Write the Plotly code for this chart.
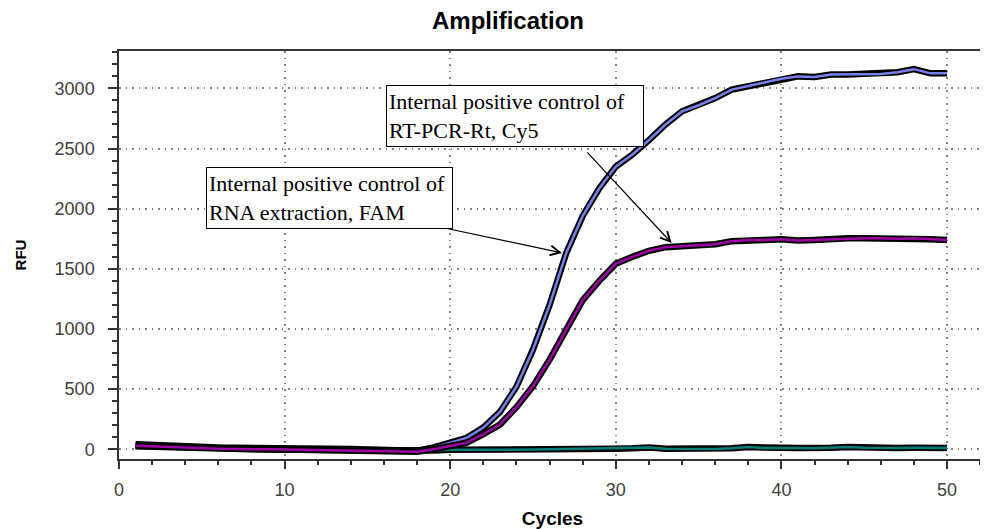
import plotly.graph_objects as go

cycles = list(range(1, 51))

# Internal positive control of RT-PCR-Rt, Cy5 (blue)
cy5 = [42, 35, 25, 22, 18, 14, 12, 12, 9, 6, 4, 1, 0, 2, -2, -5, -8, -12, 15, 55,
       95, 180, 310, 520, 830, 1200, 1630, 1940, 2170, 2350,
       2450, 2570, 2700, 2810, 2860, 2920, 2990, 3020, 3050, 3080,
       3100, 3095, 3115, 3115, 3118, 3120, 3135, 3160, 3125, 3125]

# Internal positive control of RNA extraction, FAM (purple)
fam = [30, 25, 15, 12, 8, 5, 2, 3, 0, -3, -5, -8, -8, -6, -10, -13, -15, -20, 0, 30,
       55, 125, 205, 350, 525, 745, 990, 1240, 1400, 1543,
       1600, 1650, 1680, 1690, 1700, 1705, 1730, 1740, 1740, 1745,
       1735, 1740, 1750, 1755, 1755, 1755, 1750, 1755, 1745, 1740]

# Negative / background curve (teal)
neg = [25, 20, 12, 10, 5, 3, 0, 0, -3, -5, -6, -8, -8, -8, -10, -12, -14, -16, -10, -5,
       -5, -6, -6, -5, -3, 0, 2, 5, 4, 5,
       8, 15, 5, 3, 4, 2, 8, 18, 10, 12,
       10, 8, 12, 18, 12, 8, 10, 12, 10, 10]

title_text = "Amplification"
x_title = "Cycles"
y_title = "RFU"
label_cy5 = "Internal positive control of<br>RT-PCR-Rt, Cy5"
label_fam = "Internal positive control of<br>RNA extraction, FAM"

X_RANGE = [0, 52.35]
Y_RANGE = [-81, 3311]

# page body has an 8px margin, so the figure is 980x521 placed at (8, 8)
W, H = 980, 521

fig = go.Figure()
series = [(neg, "#00807A"), (cy5, "#7880EC"), (fam, "#A000A8")]
for vals, col in series:
    fig.add_trace(go.Scatter(x=cycles, y=vals, mode="lines",
                             line=dict(color="black", width=6.5), hoverinfo="skip",
                             showlegend=False))
    fig.add_trace(go.Scatter(x=cycles, y=vals, mode="lines",
                             line=dict(color=col, width=2.5), showlegend=False))

axis_col = "#333333"
tickfont = dict(family="Liberation Sans, Arial, sans-serif", size=18, color="#404040")
grid = dict(showgrid=True, gridcolor="#808080", gridwidth=1.5, griddash="1.5px,5px")

fig.update_layout(
    width=W, height=H,
    margin=dict(l=111, r=0, t=43, b=70),
    paper_bgcolor="white", plot_bgcolor="white",
    showlegend=False,
    title=dict(text=title_text, x=500 / W, xanchor="center", y=1 - 13 / H,
               yanchor="middle",
               font=dict(family="Liberation Sans, Arial, sans-serif", size=24,
                         color="black", weight="bold")),
    xaxis=dict(range=X_RANGE, tick0=0, dtick=10, ticks="outside", ticklen=8,
               tickwidth=1.5, tickcolor=axis_col, showline=True, linecolor=axis_col,
               linewidth=1.5, mirror=True, zeroline=False, tickfont=tickfont,
               ticklabelstandoff=6,
               minor=dict(dtick=2, tick0=0, ticks="outside", ticklen=4, tickwidth=1.5,
                          tickcolor=axis_col, showgrid=False),
               title=dict(text=x_title, standoff=14,
                          font=dict(family="Liberation Sans, Arial, sans-serif",
                                    size=19, color="black", weight="bold")),
               **grid),
    xaxis2=dict(range=X_RANGE, overlaying="x", anchor="y", side="bottom",
                tick0=0, dtick=10, ticks="inside", ticklen=9, tickwidth=1.5,
                tickcolor=axis_col, showticklabels=False, showgrid=False,
                zeroline=False, showline=False, mirror="allticks",
                minor=dict(dtick=2, tick0=0, ticks="inside", ticklen=5, tickwidth=1.5,
                           tickcolor=axis_col, showgrid=False)),
    yaxis=dict(range=Y_RANGE, tick0=0, dtick=500, ticks="outside", ticklen=9,
               tickwidth=1.5, tickcolor=axis_col, showline=True, linecolor=axis_col,
               linewidth=1.5, mirror=True, zeroline=False, tickfont=tickfont,
               ticklabelstandoff=10,
               minor=dict(dtick=100, tick0=0, ticks="outside", ticklen=5, tickwidth=1.5,
                          tickcolor=axis_col, showgrid=False),
               title=dict(text=y_title, standoff=24,
                          font=dict(family="Liberation Sans, Arial, sans-serif",
                                    size=15, color="black", weight="bold")),
               **grid),
    yaxis2=dict(range=Y_RANGE, overlaying="y", anchor="x", side="left",
                tick0=0, dtick=500, ticks="inside", ticklen=8, tickwidth=1.5,
                tickcolor=axis_col, showticklabels=False, showgrid=False,
                zeroline=False, showline=False, mirror="allticks",
                minor=dict(dtick=100, tick0=0, ticks="inside", ticklen=5, tickwidth=1.5,
                           tickcolor=axis_col, showgrid=False)),
)

box_font = dict(family="Liberation Serif, Times New Roman, serif", size=22, color="black")
# Label boxes
fig.add_annotation(x=23.92, y=2772, xref="x", yref="y", text=label_cy5, showarrow=False,
                   align="left", width=252, height=56, borderpad=2, bordercolor="black",
                   borderwidth=1, bgcolor="white", font=box_font,
                   xanchor="center", yanchor="middle")
fig.add_annotation(x=12.71, y=2085, xref="x", yref="y", text=label_fam, showarrow=False,
                   align="left", width=241, height=56, borderpad=2, bordercolor="black",
                   borderwidth=1, bgcolor="white", font=box_font,
                   xanchor="center", yanchor="middle")
# Arrows
fig.add_annotation(x=33.37, y=1714, ax=28.19, ay=2480, xref="x", yref="y",
                   axref="x", ayref="y", text="", showarrow=True, arrowhead=5,
                   arrowsize=1.6, arrowwidth=1.2, arrowcolor="black", standoff=0)
fig.add_annotation(x=26.75, y=1632, ax=19.64, ay=1840, xref="x", yref="y",
                   axref="x", ayref="y", text="", showarrow=True, arrowhead=5,
                   arrowsize=1.6, arrowwidth=1.2, arrowcolor="black", standoff=0)

fig.write_html("out.html")
